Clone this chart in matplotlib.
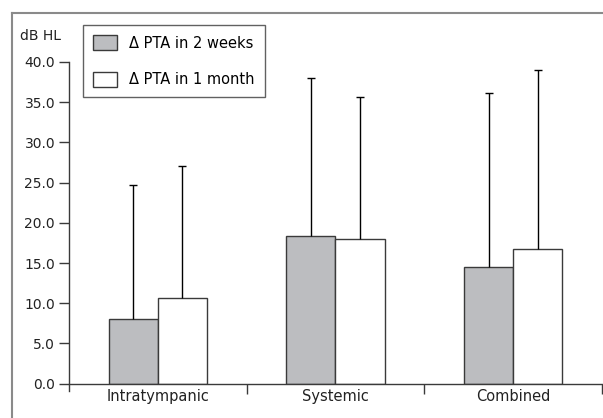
"""치료 방법별 PTA 변화량 막대그래프."""

import matplotlib
matplotlib.use("Agg")
import matplotlib.pyplot as plt
from matplotlib.lines import Line2D
from matplotlib.patches import Patch
import numpy as np

groups = ["Intratympanic", "Systemic", "Combined"]
series_labels = ["\u0394 PTA in 2 weeks", "\u0394 PTA in 1 month"]
pta_2weeks = [8.1, 18.4, 14.5]
pta_1month = [10.6, 18.0, 16.7]
sd_2weeks = [16.6, 19.6, 21.7]
sd_1month = [16.5, 17.7, 22.3]
y_ticks = [0.0, 5.0, 10.0, 15.0, 20.0, 25.0, 30.0, 35.0, 40.0]

plt.rcParams["font.family"] = ["DejaVu Sans"]
plt.rcParams["font.size"] = 9

W, H = 603, 418
fig = plt.figure(figsize=(W / 100, H / 100), dpi=100)
ax = fig.add_axes([69 / W, 1 - 383.7 / H, (602 - 69) / W, (383.7 - 62) / H])

x = np.arange(len(groups))
width = 0.276
edge = "#3a3a3a"
gray = "#bcbdc0"
err_style = dict(ecolor="black", elinewidth=1.0, capsize=2.8, capthick=1.0)

for offset, values, sds, face in ((-width / 2, pta_2weeks, sd_2weeks, gray),
                                  (width / 2, pta_1month, sd_1month, "white")):
    bars = ax.bar(x + offset, values, width, color=face, edgecolor=edge, linewidth=1.0,
                  yerr=[np.zeros(len(sds)), sds], error_kw=err_style, zorder=2)
    # 아래쪽 캡은 숨겨서 위쪽으로만 오차막대를 표시
    caps = bars.errorbar.lines[1]
    if caps:
        caps[0].set_visible(False)

ax.set_xlim(-0.5, len(groups) - 0.5)
ax.set_ylim(0, 40)
ax.set_yticks(y_ticks)
ax.set_yticklabels([f"{v:.1f}" for v in y_ticks], fontsize=10, color="#222222")

ax.set_xticks(np.arange(len(groups)) + 0.5)
ax.set_xticklabels([])
ax.set_xticks(x, minor=True)
ax.set_xticklabels(groups, minor=True, fontsize=10.5, color="#222222")
ax.tick_params(axis="x", which="major", direction="out", length=7, width=1, color=edge)
ax.tick_params(axis="x", which="minor", length=0, pad=4)
ax.tick_params(axis="y", direction="out", length=7, width=1, color=edge, pad=3)

for side in ("top", "right"):
    ax.spines[side].set_visible(False)
for side in ("left", "bottom"):
    ax.spines[side].set_color(edge)
    ax.spines[side].set_linewidth(1.0)
ax.spines["left"].set_bounds(-0.9, 40)

fig.text(20 / W, 1 - 36 / H, "dB HL", fontsize=10, va="center", ha="left", color="#222222")

handles = [Patch(facecolor=gray, edgecolor=edge, linewidth=1.0),
           Patch(facecolor="white", edgecolor=edge, linewidth=1.0)]
leg = fig.legend(handles, series_labels, loc="upper left", bbox_to_anchor=(83 / W, 1 - 25 / H),
                 frameon=True, fancybox=False, edgecolor=edge, fontsize=10.5,
                 handlelength=1.6, handleheight=1.2, labelspacing=1.45, borderpad=0.7,
                 handletextpad=0.85, borderaxespad=0)
leg.get_frame().set_linewidth(1.0)

# 바깥 테두리
fig.add_artist(Line2D([11.5 / W, 11.5 / W], [0, 1 - 13 / H], transform=fig.transFigure,
                      color="#8a8a8a", linewidth=1.5))
fig.add_artist(Line2D([11.5 / W, 1], [1 - 13 / H, 1 - 13 / H], transform=fig.transFigure,
                      color="#8a8a8a", linewidth=1.5))

fig.savefig("out.png", dpi=100)
